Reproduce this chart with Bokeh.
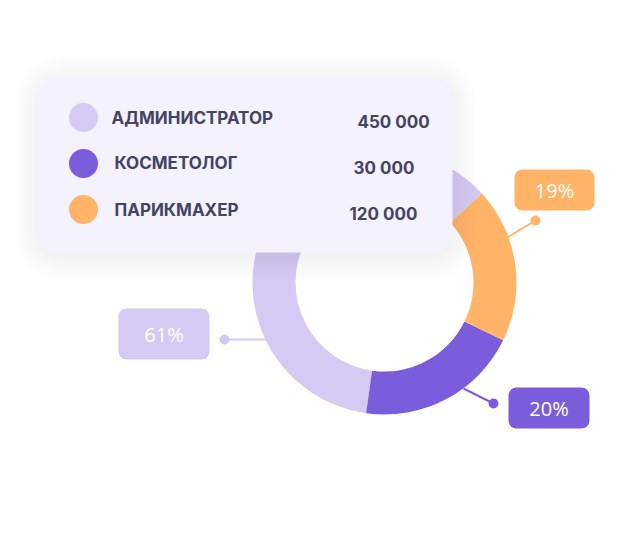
import math
from bokeh.plotting import figure
from bokeh.models import Range1d, BoxAnnotation, ColumnDataSource
from bokeh.core.properties import value
from bokeh.embed import file_html
from bokeh.resources import INLINE

# ---- data ----
categories = ["АДМИНИСТРАТОР", "КОСМЕТОЛОГ", "ПАРИКМАХЕР"]
amounts = [450000, 30000, 120000]
percents = [61, 20, 19]
colors = ["#D4CAF3", "#7B5CDB", "#FFB467"]

W, H = 622, 544
def Y(y):
    return H - y

p = figure(width=W, height=H, output_backend="svg", toolbar_location=None,
           x_range=Range1d(0, W), y_range=Range1d(0, H), min_border=0)
p.axis.visible = False
p.grid.visible = False
p.outline_line_color = None
p.background_fill_color = "white"
p.border_fill_color = "white"

# ---- donut ----
cx, cy = 384, Y(282)
start_deg = 42.4
total = sum(percents)
starts, ends = [], []
a = start_deg
for v in percents:
    starts.append(math.radians(a))
    a += v / total * 360.0
    ends.append(math.radians(a))
src = ColumnDataSource(dict(x=[cx] * 3, y=[cy] * 3, start=starts, end=ends, color=colors))
p.annular_wedge(x="x", y="y", inner_radius=89, outer_radius=132, start_angle="start",
                end_angle="end", fill_color="color", line_color=None, source=src,
                inner_radius_units="screen", outer_radius_units="screen")

# ---- callouts (connector, dot, box, label) ----
conn = [((224, 339), (265, 339)), ((493, 403), (463, 388)), ((535, 220), (507, 237))]
boxes = [(118, 209, 308, 359), (508, 589, 387, 428), (514, 594, 169, 210)]
for i in range(3):
    (x0, y0), (x1, y1) = conn[i]
    p.line([x0, x1], [Y(y0), Y(y1)], line_color=colors[i], line_width=2)
    p.scatter([x0], [Y(y0)], size=10, fill_color=colors[i], line_color=None)
    l, r, t, b = boxes[i]
    p.add_layout(BoxAnnotation(left=l, right=r, top=Y(t), bottom=Y(b), fill_color=colors[i],
                               fill_alpha=1, line_color=None, border_radius=8))
    tr = p.text([(l + r) / 2], [Y((t + b) / 2)], text=[f"{percents[i]}%"], text_color="white",
                text_font=value("Open Sans"), text_font_size="20px", text_align="center",
                text_baseline="middle")
    tr.level = "overlay"

# ---- legend card with shadow ----
cl, cr, ct, cb = 38, 452, 76, 252
for k in range(12, 0, -1):
    e = k * 2
    p.add_layout(BoxAnnotation(left=cl - e, right=cr + e, top=Y(ct - e + 4), bottom=Y(cb + e + 4),
                               fill_color="#5a5a80", fill_alpha=0.006, line_color=None,
                               border_radius=22 + e))
p.add_layout(BoxAnnotation(left=cl, right=cr, top=Y(ct), bottom=Y(cb), fill_color="#F3F2FE",
                           fill_alpha=1, line_color=None, border_radius=22))

rows_y = [117, 163, 209]
dots = p.scatter([83] * 3, [Y(v) for v in rows_y], size=29, fill_color=colors, line_color=None)
dots.level = "overlay"
t1 = p.text([111, 114, 114], [Y(v) for v in [117.5, 162, 209]], text=categories, text_color="#45445F",
            text_font=value("Inter"), text_font_size="17px", text_font_style="bold",
            text_align="left", text_baseline="middle")
t1.level = "overlay"
amt_labels = [f"{v:,}".replace(",", " ") for v in amounts]
t2 = p.text([357, 353, 349], [Y(v) for v in [121, 167, 213]], text=amt_labels, text_color="#45445F",
            text_font=value("Inter"), text_font_size="17px", text_font_style="bold",
            text_align="left", text_baseline="middle")
t2.level = "overlay"

open("out.html", "w").write(file_html(p, INLINE))
